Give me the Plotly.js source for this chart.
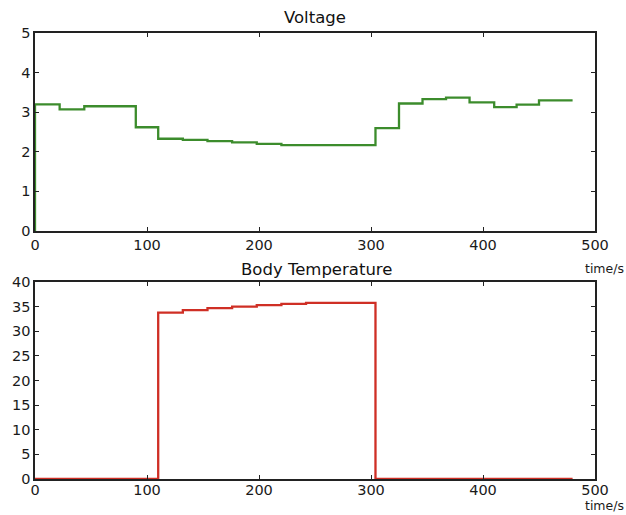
<!DOCTYPE html>
<html>
<head>
<meta charset="utf-8">
<script src="https://cdn.plot.ly/plotly-3.0.1.min.js"></script>
<style>html,body{margin:0;padding:0;background:#fff;}#chart{width:626px;height:515px;}</style>
</head>
<body>
<div id="chart"></div>
<script>
// Voltage step series (time at end of each step, value of that step)
var voltageTime = [0, 22, 44, 90, 110, 132, 154, 176, 198, 220, 304, 325, 346, 367, 388, 410, 430, 450, 480];
var voltageValue = [0, 3.2, 3.07, 3.15, 2.62, 2.33, 2.3, 2.27, 2.24, 2.2, 2.17, 2.6, 3.22, 3.33, 3.37, 3.25, 3.13, 3.19, 3.3];
// Body temperature step series
var tempTime = [0, 110, 132, 154, 176, 198, 220, 242, 304, 480];
var tempValue = [0, 0, 33.8, 34.3, 34.7, 35.0, 35.3, 35.55, 35.75, 0];

var xTicks = [0, 100, 200, 300, 400, 500];
var vTicks = [0, 1, 2, 3, 4, 5];
var tTicks = [0, 5, 10, 15, 20, 25, 30, 35, 40];

var W = 626, H = 515;
var font = {family: 'DejaVu Sans, sans-serif', size: 14.5, color: '#1a1a1a'};

function xa(anchor, standoff) {
  return {domain: [35 / W, 595 / W], range: [0, 500], tickvals: xTicks, ticks: 'inside', ticklen: 4,
    tickcolor: '#222', showline: true, linecolor: '#222', linewidth: 1.6, mirror: 'ticks',
    showgrid: false, zeroline: false, anchor: anchor, tickfont: font, fixedrange: true,
    ticklabelstandoff: standoff};
}
function ya(dom, rng, tv, anchor) {
  return {domain: dom, range: rng, tickvals: tv, ticks: 'inside', ticklen: 4,
    tickcolor: '#222', showline: true, linecolor: '#222', linewidth: 1.6, mirror: 'ticks',
    showgrid: false, zeroline: false, anchor: anchor, tickfont: font, fixedrange: true};
}

var data = [
  {x: voltageTime, y: voltageValue, type: 'scatter', mode: 'lines', line: {shape: 'vh', color: '#3c8c2c', width: 2.3},
   xaxis: 'x', yaxis: 'y', hoverinfo: 'skip'},
  {x: tempTime, y: tempValue, type: 'scatter', mode: 'lines', line: {shape: 'vh', color: '#cf2f25', width: 2.3},
   xaxis: 'x2', yaxis: 'y2', hoverinfo: 'skip'}
];

var titleFont = {family: 'DejaVu Sans, sans-serif', size: 16.5, color: '#111'};
var unitFont = {family: 'DejaVu Sans, sans-serif', size: 12.5, color: '#1a1a1a'};

var layout = {
  width: W, height: H,
  margin: {l: 0, r: 0, t: 0, b: 0},
  paper_bgcolor: '#fff', plot_bgcolor: '#fff',
  showlegend: false,
  xaxis: xa('y', 0),
  yaxis: ya([1 - 231 / H, 1 - 33 / H], [0, 5], vTicks, 'x'),
  xaxis2: xa('y2', -3),
  yaxis2: ya([1 - 479 / H, 1 - 282 / H], [0, 40], tTicks, 'x2'),
  annotations: [
    {text: 'Voltage', xref: 'paper', yref: 'paper', x: 315 / W, y: 1 - 17 / H, showarrow: false,
     xanchor: 'center', yanchor: 'middle', font: titleFont},
    {text: 'Body Temperature', xref: 'paper', yref: 'paper', x: 316 / W, y: 1 - 269 / H, showarrow: false,
     xanchor: 'center', yanchor: 'middle', font: titleFont},
    {text: 'time/s', xref: 'paper', yref: 'paper', x: 604 / W, y: 1 - 268 / H, showarrow: false,
     xanchor: 'center', yanchor: 'middle', font: unitFont},
    {text: 'time/s', xref: 'paper', yref: 'paper', x: 604 / W, y: 0, showarrow: false,
     xanchor: 'center', yanchor: 'bottom', font: unitFont}
  ]
};

Plotly.newPlot('chart', data, layout, {staticPlot: true, displayModeBar: false});
</script>
</body>
</html>
